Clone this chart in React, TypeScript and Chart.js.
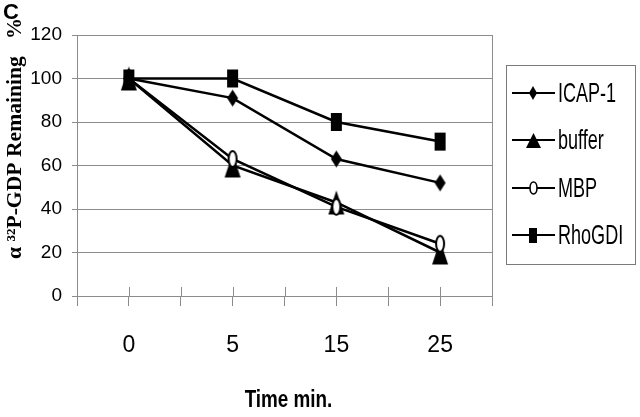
import { useEffect, useRef } from 'react';
import { Chart, registerables } from 'chart.js';

Chart.register(...registerables);

// ---- data ----
const categories = ['0', '5', '15', '25'];
const seriesNames = ['ICAP-1', 'buffer', 'MBP', 'RhoGDI'];
const icap1 = [100, 91, 63, 52];
const bufferVals = [100, 60, 43, 20];
const mbp = [100, 63, 41, 24];
const rhoGDI = [100, 100, 80, 71];
const yTicks = [0, 20, 40, 60, 80, 100, 120];

const SANS = '"Liberation Sans", Arial, Helvetica, sans-serif';
const SERIF = '"Liberation Serif", "Times New Roman", serif';
const GRID = '#8c8c8c';

type Shape = 'diamond' | 'triangle' | 'circle' | 'square';

function makeMarker(shape: Shape, w: number, h: number, fill: string, stroke: string, lw: number) {
  const c = document.createElement('canvas');
  c.width = Math.ceil(w + 4);
  c.height = Math.ceil(h + 4);
  const g = c.getContext('2d') as CanvasRenderingContext2D;
  const cx = c.width / 2;
  const cy = c.height / 2;
  g.beginPath();
  if (shape === 'diamond') {
    g.moveTo(cx, cy - h / 2);
    g.lineTo(cx + w / 2, cy);
    g.lineTo(cx, cy + h / 2);
    g.lineTo(cx - w / 2, cy);
    g.closePath();
  } else if (shape === 'square') {
    g.rect(cx - w / 2, cy - h / 2, w, h);
  } else if (shape === 'triangle') {
    g.moveTo(cx, cy - h / 2);
    g.lineTo(cx + w / 2, cy + h / 2);
    g.lineTo(cx - w / 2, cy + h / 2);
    g.closePath();
  } else {
    g.ellipse(cx, cy, w / 2, h / 2, 0, 0, Math.PI * 2);
  }
  g.fillStyle = fill;
  g.fill();
  if (lw > 0) {
    g.lineWidth = lw;
    g.strokeStyle = stroke;
    g.stroke();
  }
  return c;
}

export default function App() {
  const ref = useRef<HTMLCanvasElement | null>(null);

  useEffect(() => {
    const canvas = ref.current;
    if (!canvas) return;

    const plotMarkers = [
      makeMarker('diamond', 11, 17, '#000', '#000', 0),
      makeMarker('triangle', 16, 24, '#000', '#000', 0),
      makeMarker('circle', 8, 16, '#fff', '#000', 2),
      makeMarker('square', 11, 18, '#000', '#000', 0),
    ];
    const legendMarkers = [
      makeMarker('diamond', 8, 14, '#000', '#000', 0),
      makeMarker('triangle', 15, 15, '#000', '#000', 0),
      makeMarker('circle', 7, 12, '#fff', '#000', 1.6),
      makeMarker('square', 8, 15, '#000', '#000', 0),
    ];
    const values = [icap1, bufferVals, mbp, rhoGDI];
    const orders = [2, 3, 1, 0];

    const decor = {
      id: 'decor',
      beforeDatasetsDraw(chart: any) {
        const ctx = chart.ctx as CanvasRenderingContext2D;
        const xs = chart.scales.x;
        const bottom = chart.chartArea.bottom;
        ctx.save();
        ctx.strokeStyle = GRID;
        ctx.lineWidth = 1;
        xs.ticks.forEach((t: any) => {
          const px = Math.round(xs.getPixelForValue(t.value)) + 0.5;
          ctx.beginPath();
          ctx.moveTo(px, bottom - 9);
          ctx.lineTo(px, bottom);
          ctx.stroke();
        });
        ctx.restore();
      },
      afterDraw(chart: any) {
        const ctx = chart.ctx as CanvasRenderingContext2D;
        const area = chart.chartArea;
        ctx.save();
        // panel letter
        ctx.fillStyle = '#000';
        ctx.font = `bold 22px ${SANS}`;
        ctx.textAlign = 'left';
        ctx.textBaseline = 'alphabetic';
        ctx.fillText('C', 3, 19);

        // y title (rotated)
        ctx.font = `bold 21px ${SERIF}`;
        ctx.save();
        ctx.translate(21, 259);
        ctx.rotate(-Math.PI / 2);
        ctx.scale(1.03, 1);
        ctx.fillText('α ³²P-GDP Remaining', 0, 0);
        ctx.restore();
        ctx.save();
        ctx.translate(21, 39);
        ctx.rotate(-Math.PI / 2);
        ctx.fillText('%', 0, 0);
        ctx.restore();

        // x title
        ctx.save();
        ctx.translate((area.left + area.right) / 2 + 4, 407);
        ctx.scale(0.82, 1);
        ctx.font = `bold 23px ${SANS}`;
        ctx.textAlign = 'center';
        ctx.fillText('Time min.', 0, 0);
        ctx.restore();

        // legend
        const bx = 506.5, by = 65.5, bw = 129, bh = 199;
        ctx.strokeStyle = '#7a7a7a';
        ctx.lineWidth = 1;
        ctx.strokeRect(bx, by, bw, bh);
        const rowY = [93, 140, 188, 235];
        chart.data.datasets.forEach((ds: any, i: number) => {
          const cy = rowY[i];
          ctx.strokeStyle = '#000';
          ctx.lineWidth = 2;
          ctx.beginPath();
          ctx.moveTo(512, cy);
          ctx.lineTo(555, cy);
          ctx.stroke();
          const m = legendMarkers[i];
          ctx.drawImage(m, Math.round(533 - m.width / 2), Math.round(cy - m.height / 2));
          ctx.save();
          ctx.translate(558, cy + 1);
          ctx.scale(0.82, 1.27);
          ctx.font = `22px ${SANS}`;
          ctx.textAlign = 'left';
          ctx.textBaseline = 'middle';
          ctx.fillStyle = '#000';
          ctx.fillText(ds.label, 0, 0);
          ctx.restore();
        });
        ctx.restore();
      },
    };

    const chart = new Chart(canvas, {
      type: 'line',
      data: {
        datasets: seriesNames.map((name, i) => ({
          label: name,
          data: values[i].map((v, j) => ({ x: j, y: v })),
          borderColor: '#000',
          backgroundColor: '#000',
          borderWidth: 2.5,
          pointStyle: plotMarkers[i] as any,
          pointRadius: 8,
          order: orders[i],
          fill: false,
          tension: 0,
        })),
      },
      options: {
        responsive: false,
        animation: false,
        devicePixelRatio: 1,
        layout: { padding: { left: 0, top: 35, right: 148, bottom: 0 } },
        plugins: {
          legend: { display: false },
          tooltip: { enabled: false },
        },
        events: [],
        scales: {
          x: {
            type: 'linear',
            min: -0.5,
            max: 3.5,
            afterFit: (s: any) => {
              s.height = 121;
            },
            ticks: {
              stepSize: 0.5,
              autoSkip: false,
              maxRotation: 0,
              color: '#000',
              padding: 26,
              font: { family: SANS, size: 23 },
              callback: (v: any) => (Number.isInteger(v) ? categories[v] : ''),
            },
            grid: {
              color: (c: any) => (c.tick && c.tick.value === 3.5 ? GRID : 'rgba(0,0,0,0)'),
              tickColor: GRID,
              tickLength: 10,
              lineWidth: 1,
            },
            border: { color: GRID, width: 1 },
          },
          y: {
            min: 0,
            max: 120,
            afterFit: (s: any) => {
              s.width = 77;
            },
            afterBuildTicks: (s: any) => {
              s.ticks = yTicks.map((v) => ({ value: v }));
            },
            ticks: {
              color: '#000',
              padding: 10,
              font: { family: SANS, size: 19 },
            },
            grid: { color: GRID, tickColor: GRID, tickLength: 5, lineWidth: 1 },
            border: { color: GRID, width: 1 },
          },
        },
      },
      plugins: [decor],
    });

    return () => chart.destroy();
  }, []);

  return (
    <div style={{ position: 'absolute', left: 0, top: 0, width: 640, height: 417, background: '#fff' }}>
      <canvas ref={ref} width={640} height={417} style={{ display: 'block' }} />
    </div>
  );
}
